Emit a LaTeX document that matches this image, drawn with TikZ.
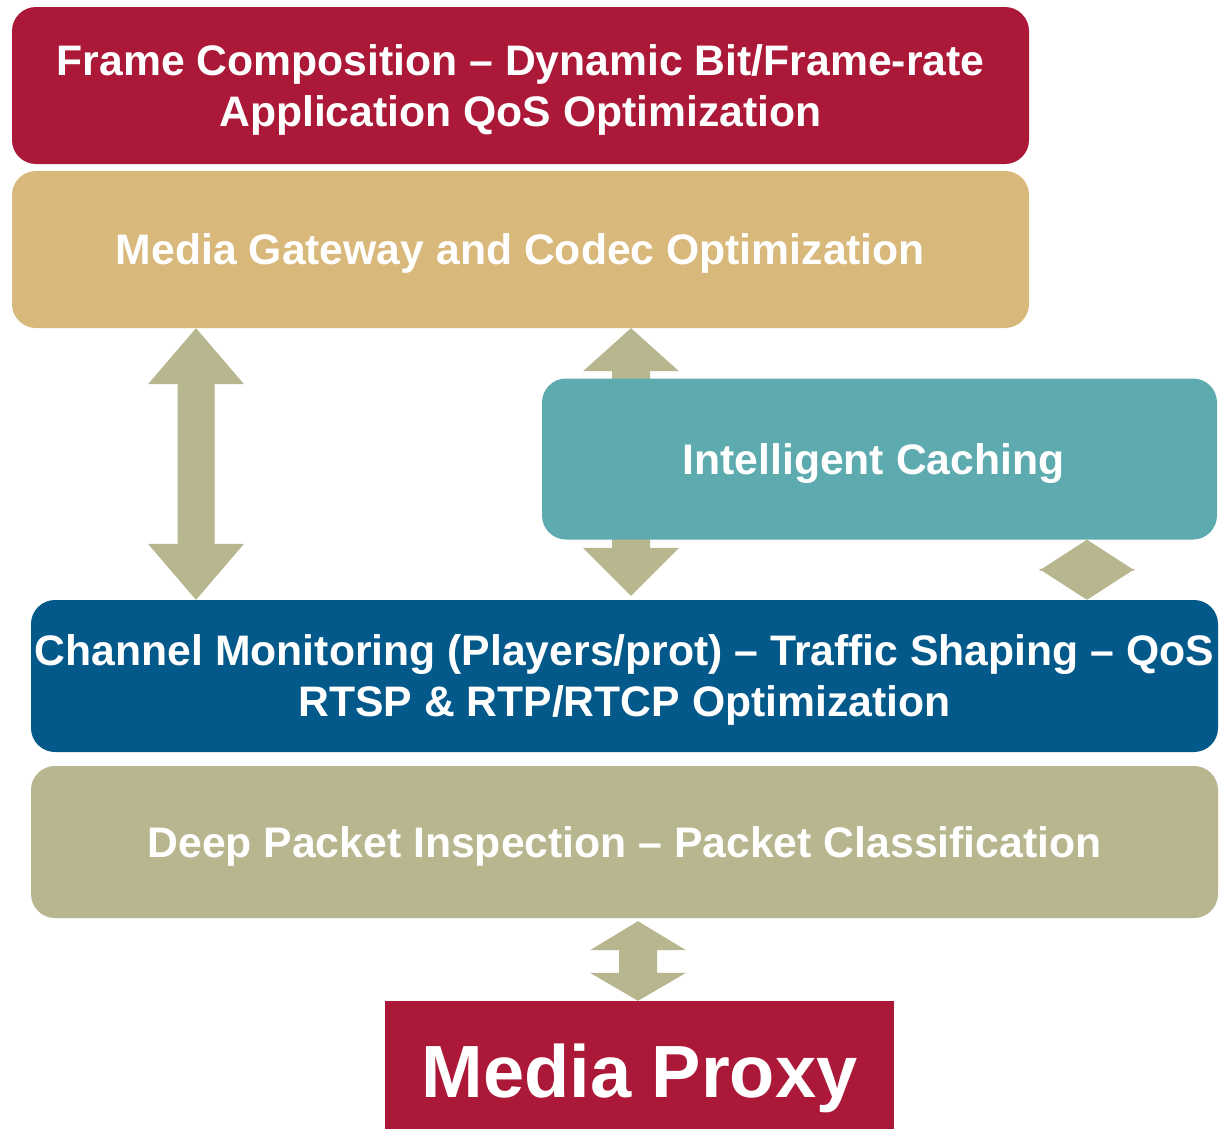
\documentclass[tikz,border=0pt]{standalone}
\usepackage{fontspec}
\setmainfont{Liberation Sans}
\usetikzlibrary{calc}
\definecolor{crimson}{HTML}{AC1838}
\definecolor{tan}{HTML}{D8B87B}
\definecolor{teal}{HTML}{5EABAF}
\definecolor{deepblue}{HTML}{03598A}
\definecolor{khaki}{HTML}{B8B68F}

% double-headed block arrow: #1 top tip, #2 bottom tip,
% #3 head half-width, #4 shaft half-width, #5 head length (top), #6 head length (bottom)
\newcommand\blockarrow[6]{%
  \fill[khaki] let \p1=#1, \p2=#2 in
    (\x1,\y1) -- ({\x1+#3pt},{\y1-#5pt}) -- ({\x1+#4pt},{\y1-#5pt})
    -- ({\x2+#4pt},{\y2+#6pt}) -- ({\x2+#3pt},{\y2+#6pt}) -- (\x2,\y2)
    -- ({\x2-#3pt},{\y2+#6pt}) -- ({\x2-#4pt},{\y2+#6pt})
    -- ({\x1-#4pt},{\y1-#5pt}) -- ({\x1-#3pt},{\y1-#5pt}) -- cycle;}

\begin{document}
\begin{tikzpicture}[x=1pt,y=-1pt,
  layer/.style={rounded corners=24pt, inner sep=0pt, align=center,
    text=white, text depth=0pt, font=\bfseries\fontsize{42.7}{51}\selectfont},
]
\clip (0,0) rectangle (1221,1128);
\fill[white] (0,0) rectangle (1221,1128);

% column positions of the block arrows
\coordinate (colL) at (196,0);
\coordinate (colM) at (631,0);
\coordinate (colR) at (1087,0);
\coordinate (colB) at (638,0);

% protocol layers
\node[layer, fill=crimson, minimum width=1017pt, minimum height=157pt] (frame) at (520.5,85.5)
  {Frame Composition -- Dynamic Bit/Frame-rate\\Application QoS Optimization};
\node[layer, fill=tan, minimum width=1017pt, minimum height=157pt] (gw) at (520.5,249.5)
  {Media Gateway and Codec Optimization};
\node[layer, fill=deepblue, minimum width=1187pt, minimum height=152pt] (chan) at (624.5,676)
  {Channel Monitoring (Players/prot) -- Traffic Shaping -- QoS\\RTSP \& RTP/RTCP Optimization};
\node[layer, fill=khaki, minimum width=1187pt, minimum height=152pt] (dpi) at (624.5,842)
  {Deep Packet Inspection -- Packet Classification};

% arrows between the layers
\blockarrow{(gw.south -| colL)}{(chan.north -| colL)}{48}{18.5}{56}{56}
\blockarrow{(gw.south -| colM)}{($(chan.north -| colM)+(0,-4)$)}{48}{19}{43}{48}

% cache sits on top of the middle arrow; its label sits a little left of centre
\node[layer, fill=teal, minimum width=675pt, minimum height=161pt] (cache) at (879.5,459)
  {Intelligent Caching\kern12pt};
\blockarrow{(cache.south -| colR)}{(chan.north -| colR)}{48}{0}{31}{31}

% proxy at the bottom
\node[fill=crimson, inner sep=0pt, minimum width=509pt, minimum height=140pt,
  text=white, text depth=0pt, font=\bfseries\fontsize{74}{80}\selectfont] (proxy) at (639.5,1071) {Media Proxy};
\blockarrow{($(dpi.south -| colB)+(0,3)$)}{(proxy.north -| colB)}{48}{19}{29}{28}
\end{tikzpicture}
\end{document}
